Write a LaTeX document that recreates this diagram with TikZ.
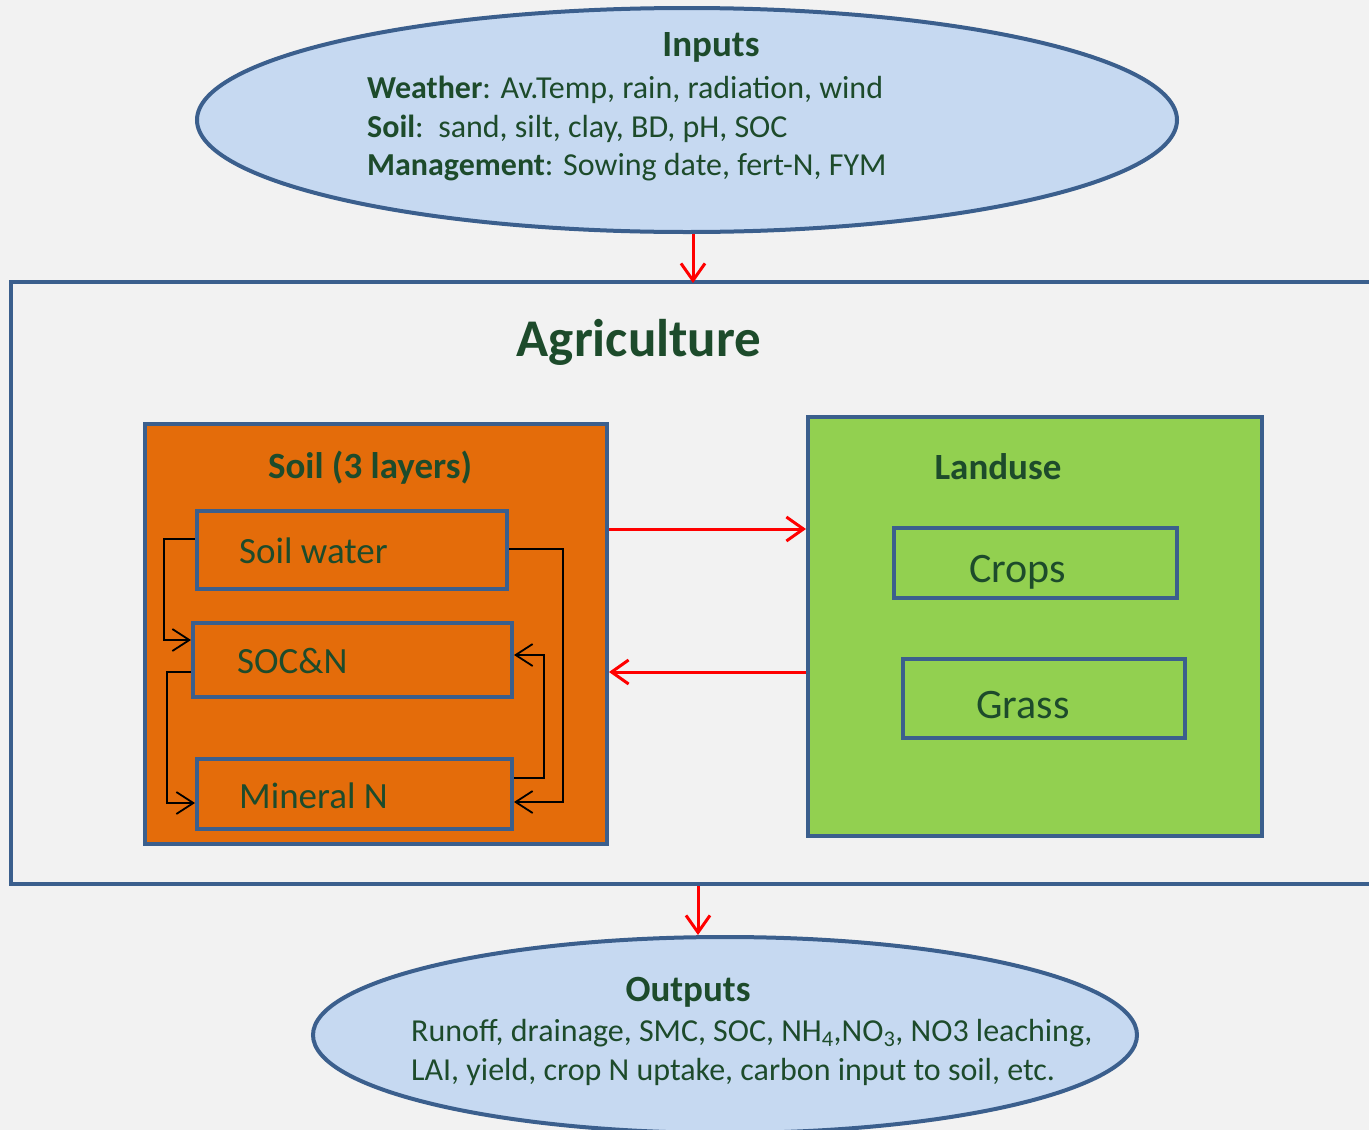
\documentclass[tikz,border=0pt]{standalone}
\usepackage{fontspec}
\setmainfont{Carlito}
\usetikzlibrary{shapes.geometric,arrows.meta,calc}
\definecolor{bgc}{HTML}{F2F2F2}
\definecolor{ellfill}{HTML}{C6D9F1}
\definecolor{bord}{HTML}{3B5F8D}
\definecolor{soilc}{HTML}{E46C0A}
\definecolor{landc}{HTML}{92D050}
\definecolor{txt}{HTML}{1D4B2B}
\definecolor{redc}{HTML}{FF0000}
\tikzset{
  ell/.style={ellipse, draw=bord, fill=ellfill, line width=4pt, inner sep=0pt},
  bigbox/.style={rectangle, draw=bord, line width=4pt, inner sep=0pt},
  subbox/.style={rectangle, draw=bord, line width=4pt, inner sep=0pt},
  lbl/.style={text=txt, inner sep=0pt, anchor=base west},
  clbl/.style={text=txt, inner sep=0pt, anchor=base},
  redarr/.style={draw=redc, line width=3pt, -{Straight Barb[length=17pt,width=24pt,line width=3pt]}},
  blkarr/.style={draw=black, line width=1.8pt, -{Straight Barb[length=17pt,width=22pt,line width=1.8pt]}},
}
\newcommand{\fs}[1]{\fontsize{#1}{#1}\selectfont}
\begin{document}
\begin{tikzpicture}[x=1pt,y=-1pt]
\fill[bgc] (0,0) rectangle (1369,1130);
\useasboundingbox (0,0) rectangle (1369,1130);
\clip (0,0) rectangle (1369,1130);

% inputs ellipse
\node[ell, minimum width=980pt, minimum height=224pt] (inputs) at (687,120) {};
\node[clbl] (intitle) at (711,56) {\fs{37}\textbf{Inputs}};
\node[lbl] (in1) at (367,98) {\fs{32}\textbf{Weather}: Av.Temp, rain, radiation, wind};
\node[lbl] (in2) at (367,137) {\fs{32}\textbf{Soil}:\ \ sand, silt, clay, BD, pH, SOC};
\node[lbl] (in3) at (367,175) {\fs{32}\textbf{Management}: Sowing date, fert-N, FYM};

% agriculture frame
\node[bigbox, fill=bgc, minimum width=1389pt, minimum height=602pt] (frame) at (705.5,583) {};
\node[clbl] (agri) at (639,356) {\fs{53}\textbf{Agriculture}};

% soil box
\node[bigbox, fill=soilc, minimum width=462pt, minimum height=420pt] (soil) at (376,634) {};
\node[clbl] (soiltitle) at (370,478) {\fs{37}\textbf{Soil (3 layers)}};
\node[subbox, minimum width=310pt, minimum height=78pt] (sw) at (352,550) {};
\node[subbox, minimum width=319pt, minimum height=74pt] (socn) at (352.5,660) {};
\node[subbox, minimum width=315pt, minimum height=70pt] (minn) at (354.5,794) {};
\node[lbl] (swt) at (239,563) {\fs{37}Soil water};
\node[lbl] (socnt) at (237,673) {\fs{37}SOC\&N};
\node[lbl] (minnt) at (239,808) {\fs{37}Mineral N};

% landuse box
\node[bigbox, fill=landc, minimum width=454pt, minimum height=419pt] (land) at (1035,626.5) {};
\node[clbl] (landtitle) at (998,479) {\fs{37}\textbf{Landuse}};
\node[subbox, minimum width=283pt, minimum height=70pt] (crops) at (1035.5,563) {};
\node[subbox, minimum width=282pt, minimum height=79pt] (grass) at (1044,698.5) {};
\node[lbl] (cropst) at (969,582) {\fs{42}Crops};
\node[lbl] (grasst) at (976,718) {\fs{42}Grass};

% outputs ellipse
\node[ell, minimum width=824pt, minimum height=196pt] (outputs) at (725,1035) {};
\node[clbl] (outtitle) at (688,1001) {\fs{37}\textbf{Outputs}};
\node[lbl] (out1) at (411,1041) {\fs{32}Runoff, drainage, SMC, SOC, NH\textsubscript{4},NO\textsubscript{3}, NO3 leaching,};
\node[lbl] (out2) at (411,1080) {\fs{32}LAI, yield, crop N uptake, carbon input to soil, etc.};

% black connectors
\draw[blkarr] ([yshift=11pt]sw.west) -- ++(-31pt,0) |- ([yshift=20pt]socn.west);
\draw[blkarr] ([yshift=-12pt]socn.west) -- ++(-24pt,0) |- ([yshift=-9pt]minn.west);
\draw[blkarr] ([yshift=1pt]sw.east) -- ++(54pt,0) |- ([yshift=-8pt]minn.east);
\draw[blkarr] ([yshift=16pt]minn.east) -- ++(30pt,0) |- ([yshift=5pt]socn.east);

% red arrows
\draw[redarr] ([yshift=105pt]soil.east) -- ([yshift=105pt]soil.east -| land.west);
\draw[redarr] ([yshift=-45.5pt]land.west) -- ([yshift=-45.5pt]land.west -| soil.east);
\draw[redarr] ([xshift=6pt]inputs.south) -- ([xshift=6pt,yshift=-3pt]inputs.south |- frame.north);
\draw[redarr] ([xshift=-27pt]outputs.north |- frame.south) -- ([xshift=-27pt]outputs.north);
\end{tikzpicture}
\end{document}
